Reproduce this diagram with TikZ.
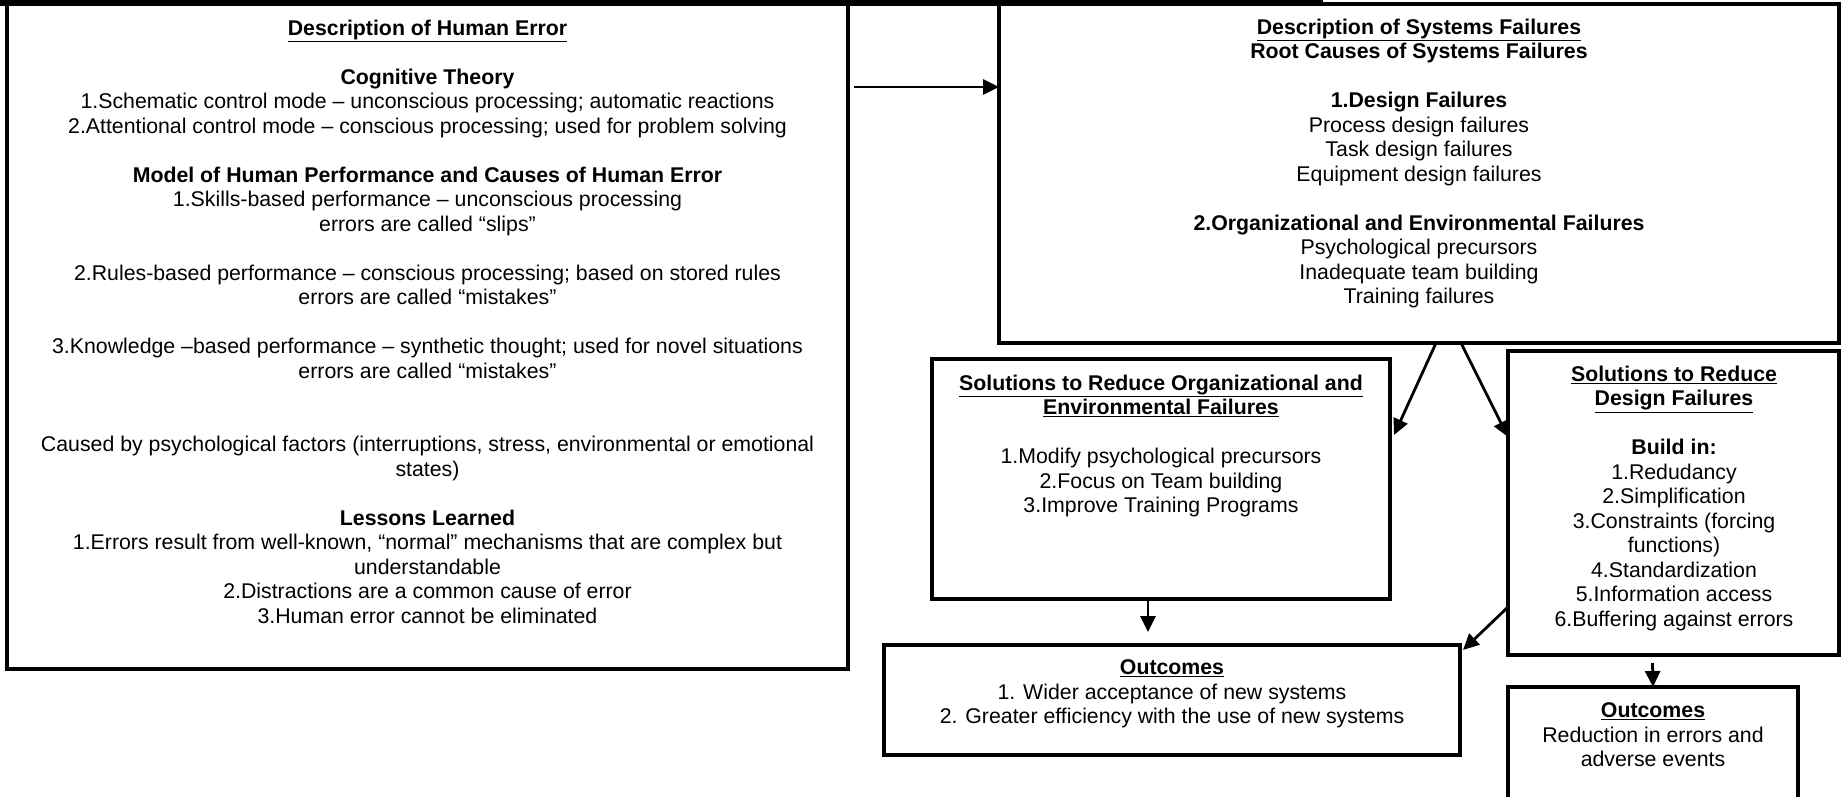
\documentclass[tikz,border=0pt]{standalone}
\usepackage{fontspec}
\setmainfont{Liberation Sans}
\usetikzlibrary{arrows.meta}
\tikzset{
  boxnode/.style={draw=black, line width=3.5pt, inner sep=0pt, outer sep=0pt, anchor=north west, rectangle},
  txtnode/.style={align=center, inner sep=0pt, outer sep=0pt, anchor=north, font=\fontsize{21.3}{24.5}\selectfont},
  arr/.style={line width=2.8pt, -{Triangle[length=16pt,width=15pt]}}
}
\begin{document}
\begin{tikzpicture}[x=1pt,y=-1pt]
\useasboundingbox (0,0) rectangle (1841,796);
\fill[white] (0,0) rectangle (1841,796);
\clip (0,0) rectangle (1841,796);
\fill[black] (0,0) rectangle (1323,6);

% boxes
\node[boxnode, minimum width=841pt, minimum height=665pt] (he) at (7,4) {};
\node[boxnode, minimum width=840pt, minimum height=339pt] (sf) at (999,4) {};
\node[boxnode, minimum width=458pt, minimum height=240pt] (org) at (932,359) {};
\node[boxnode, minimum width=331pt, minimum height=304pt] (des) at (1508,351) {};
\node[boxnode, minimum width=576pt, minimum height=110pt] (o1) at (884,645) {};
\node[boxnode, minimum width=290pt, minimum height=160pt] (o2) at (1508,687) {};

% texts
\node[txtnode] (het) at (427.5,20) {\underline{\textbf{Description of Human Error}}\\[24.5pt]
\textbf{Cognitive Theory}\\
1.Schematic control mode – unconscious processing; automatic reactions\\
2.Attentional control mode – conscious processing; used for problem solving\\[24.5pt]
\textbf{Model of Human Performance and Causes of Human Error}\\
1.Skills-based performance – unconscious processing\\
errors are called “slips”\\[24.5pt]
2.Rules-based performance – conscious processing; based on stored rules\\
errors are called “mistakes”\\[24.5pt]
3.Knowledge –based performance – synthetic thought; used for novel situations\\
errors are called “mistakes”\\[49pt]
Caused by psychological factors (interruptions, stress, environmental or emotional\\
states)\\[24.5pt]
\textbf{Lessons Learned}\\
1.Errors result from well-known, “normal” mechanisms that are complex but\\
understandable\\
2.Distractions are a common cause of error\\
3.Human error cannot be eliminated};

\node[txtnode] (sft) at (1419,19) {\underline{\textbf{Description of Systems Failures}}\\
\textbf{Root Causes of Systems Failures}\\[24.5pt]
\textbf{1.Design Failures}\\
Process design failures\\
Task design failures\\
Equipment design failures\\[24.5pt]
\textbf{2.Organizational and Environmental Failures}\\
Psychological precursors\\
Inadequate team building\\
Training failures};

\node[txtnode] (orgt) at (1161,375) {\underline{\textbf{Solutions to Reduce Organizational and}}\\
\underline{\textbf{Environmental Failures}}\\[24.5pt]
1.Modify psychological precursors\\
2.Focus on Team building\\
3.Improve Training Programs};

\node[txtnode] (dest) at (1674,366) {\underline{\textbf{Solutions to Reduce}}\\
\underline{\textbf{Design Failures}}\\[24.5pt]
\textbf{Build in:}\\
1.Redudancy\\
2.Simplification\\
3.Constraints (forcing\\
functions)\\
4.Standardization\\
5.Information access\\
6.Buffering against errors};

\node[txtnode] (o1t) at (1172,660) {\underline{\textbf{Outcomes}}\\
1. Wider acceptance of new systems\\
2. Greater efficiency with the use of new systems};

\node[txtnode] (o2t) at (1653,703) {\underline{\textbf{Outcomes}}\\
Reduction in errors and\\
adverse events};

% connectors
\draw[arr] ([xshift=6pt,yshift=-83pt]he.north east) -- ([yshift=-83pt]sf.north west);
\draw[arr] ([xshift=17pt]sf.south) -- ([xshift=4pt,yshift=-76pt]org.north east);
\draw[arr] ([xshift=42pt]sf.south) -- ([yshift=-86pt]des.north west);
\draw[arr] ([xshift=-13pt]org.south) -- ([xshift=-24pt,yshift=13pt]o1.north);
\draw[arr] ([yshift=48pt]des.south west) -- ([xshift=3pt,yshift=-5pt]o1.north east);
\draw[arr] ([xshift=-21pt,yshift=-8pt]des.south) -- (o2.north);
\end{tikzpicture}
\end{document}
